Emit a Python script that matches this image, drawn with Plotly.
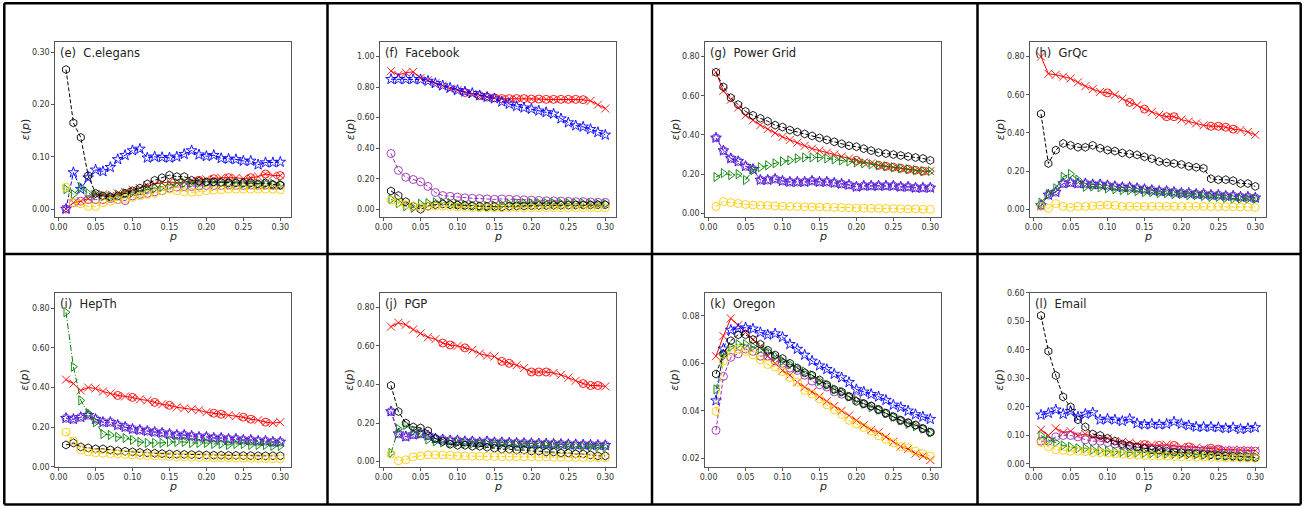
import plotly.graph_objects as go

# ---------------- data ----------------
P = [0.01, 0.02, 0.03, 0.04, 0.05, 0.06, 0.07, 0.08, 0.09, 0.10,
     0.11, 0.12, 0.13, 0.14, 0.15, 0.16, 0.17, 0.18, 0.19, 0.20,
     0.21, 0.22, 0.23, 0.24, 0.25, 0.26, 0.27, 0.28, 0.29, 0.30]
X_TICKS = [0.00, 0.05, 0.10, 0.15, 0.20, 0.25, 0.30]

# (e) C.elegans
celegans_red = [0.000,0.012,0.015,0.020,0.028,0.028,0.025,0.030,0.033,0.037,0.040,0.045,0.048,0.050,0.052,0.050,0.052,0.054,0.055,0.057,0.058,0.060,0.060,0.060,0.058,0.060,0.062,0.067,0.064,0.064]
celegans_blue = [0.000,0.070,0.038,0.060,0.075,0.072,0.080,0.095,0.103,0.112,0.115,0.098,0.100,0.099,0.098,0.100,0.105,0.112,0.104,0.101,0.103,0.097,0.096,0.095,0.092,0.092,0.085,0.089,0.089,0.090]
celegans_purple = [0.000,0.012,0.015,0.018,0.018,0.018,0.020,0.018,0.016,0.025,0.028,0.030,0.033,0.035,0.040,0.042,0.043,0.043,0.044,0.045,0.045,0.045,0.046,0.045,0.045,0.046,0.045,0.046,0.045,0.045]
celegans_green = [0.038,0.028,0.042,0.030,0.028,0.025,0.025,0.027,0.030,0.032,0.035,0.038,0.040,0.043,0.045,0.050,0.050,0.050,0.050,0.051,0.050,0.050,0.050,0.050,0.049,0.049,0.048,0.049,0.048,0.048]
celegans_black = [0.267,0.165,0.137,0.064,0.030,0.025,0.023,0.025,0.030,0.035,0.040,0.048,0.055,0.060,0.065,0.062,0.062,0.055,0.053,0.052,0.052,0.051,0.050,0.050,0.050,0.050,0.048,0.050,0.047,0.046]
celegans_yellow = [0.042,0.012,0.010,0.005,0.005,0.012,0.015,0.018,0.020,0.022,0.025,0.028,0.030,0.035,0.038,0.035,0.033,0.032,0.033,0.035,0.036,0.037,0.038,0.038,0.038,0.038,0.038,0.038,0.038,0.037]

# (f) Facebook
facebook_red = [0.905,0.880,0.895,0.900,0.860,0.845,0.825,0.810,0.790,0.780,0.765,0.755,0.745,0.735,0.730,0.725,0.725,0.725,0.725,0.722,0.722,0.720,0.720,0.720,0.720,0.720,0.718,0.710,0.685,0.660]
facebook_blue = [0.852,0.852,0.852,0.852,0.850,0.840,0.825,0.810,0.795,0.780,0.770,0.760,0.745,0.735,0.725,0.705,0.690,0.675,0.665,0.657,0.645,0.635,0.625,0.594,0.568,0.548,0.540,0.524,0.504,0.487]
facebook_purple = [0.365,0.255,0.210,0.195,0.180,0.150,0.110,0.090,0.085,0.080,0.075,0.072,0.070,0.068,0.065,0.068,0.066,0.064,0.062,0.060,0.058,0.056,0.055,0.054,0.052,0.050,0.050,0.048,0.046,0.045]
facebook_green = [0.065,0.040,0.020,0.010,0.035,0.040,0.045,0.045,0.040,0.035,0.030,0.025,0.020,0.020,0.025,0.030,0.035,0.040,0.040,0.040,0.040,0.040,0.040,0.040,0.040,0.038,0.038,0.036,0.035,0.035]
facebook_black = [0.120,0.090,0.050,0.020,0.000,0.020,0.030,0.035,0.030,0.028,0.025,0.022,0.020,0.018,0.018,0.015,0.020,0.022,0.022,0.024,0.025,0.025,0.026,0.026,0.027,0.028,0.028,0.029,0.030,0.030]
facebook_yellow = [0.060,0.045,0.030,0.020,0.015,0.020,0.020,0.020,0.018,0.015,0.012,0.010,0.010,0.010,0.010,0.010,0.010,0.010,0.010,0.010,0.010,0.010,0.010,0.010,0.010,0.010,0.010,0.010,0.010,0.010]

# (g) Power Grid
power_red = [0.720,0.625,0.580,0.540,0.500,0.475,0.450,0.430,0.410,0.390,0.375,0.360,0.345,0.330,0.320,0.310,0.300,0.290,0.280,0.270,0.260,0.255,0.245,0.240,0.235,0.230,0.225,0.220,0.215,0.215]
power_blue = [0.385,0.320,0.280,0.265,0.240,0.225,0.170,0.170,0.175,0.165,0.160,0.160,0.160,0.165,0.160,0.160,0.155,0.150,0.145,0.135,0.140,0.140,0.140,0.140,0.140,0.135,0.135,0.130,0.130,0.130]
power_purple = [0.385,0.320,0.280,0.265,0.240,0.225,0.170,0.170,0.175,0.165,0.160,0.160,0.160,0.165,0.160,0.160,0.155,0.150,0.145,0.135,0.140,0.140,0.140,0.140,0.140,0.135,0.135,0.130,0.130,0.130]
power_green = [0.185,0.205,0.195,0.200,0.170,0.220,0.235,0.245,0.255,0.265,0.270,0.280,0.285,0.285,0.285,0.280,0.275,0.270,0.265,0.260,0.255,0.250,0.245,0.240,0.235,0.230,0.225,0.220,0.215,0.215]
power_black = [0.720,0.645,0.590,0.555,0.520,0.500,0.485,0.470,0.450,0.440,0.425,0.415,0.405,0.395,0.385,0.375,0.365,0.355,0.345,0.340,0.330,0.320,0.310,0.305,0.300,0.295,0.290,0.285,0.280,0.270]
power_yellow = [0.035,0.060,0.055,0.050,0.045,0.042,0.040,0.040,0.038,0.036,0.035,0.034,0.033,0.032,0.032,0.031,0.030,0.029,0.028,0.027,0.026,0.025,0.025,0.024,0.024,0.023,0.022,0.022,0.021,0.020]

# (h) GrQc
grqc_red = [0.800,0.710,0.705,0.695,0.685,0.665,0.645,0.630,0.615,0.610,0.600,0.580,0.560,0.545,0.525,0.510,0.495,0.485,0.485,0.470,0.460,0.450,0.440,0.435,0.435,0.430,0.420,0.415,0.405,0.390]
grqc_blue = [0.020,0.075,0.090,0.135,0.140,0.135,0.135,0.130,0.130,0.125,0.120,0.115,0.115,0.110,0.105,0.100,0.095,0.095,0.090,0.085,0.085,0.080,0.080,0.075,0.075,0.070,0.070,0.065,0.065,0.060]
grqc_purple = [0.020,0.075,0.090,0.135,0.140,0.135,0.135,0.130,0.130,0.125,0.120,0.115,0.115,0.110,0.105,0.100,0.095,0.095,0.090,0.085,0.085,0.080,0.080,0.075,0.075,0.070,0.070,0.065,0.065,0.060]
grqc_green = [0.035,0.080,0.110,0.170,0.185,0.155,0.118,0.120,0.115,0.110,0.105,0.100,0.100,0.095,0.090,0.090,0.085,0.085,0.080,0.080,0.075,0.075,0.070,0.065,0.065,0.060,0.055,0.055,0.055,0.055]
grqc_black = [0.500,0.240,0.310,0.345,0.335,0.325,0.325,0.335,0.320,0.310,0.305,0.295,0.290,0.285,0.275,0.265,0.250,0.245,0.240,0.235,0.225,0.220,0.215,0.160,0.155,0.155,0.150,0.135,0.135,0.120]
grqc_yellow = [0.015,0.005,0.030,0.015,0.010,0.015,0.015,0.018,0.020,0.022,0.020,0.015,0.015,0.015,0.015,0.015,0.015,0.015,0.015,0.015,0.015,0.015,0.015,0.014,0.014,0.013,0.013,0.012,0.012,0.010]

# (i) HepTh
hepth_red = [0.440,0.420,0.385,0.400,0.395,0.380,0.370,0.360,0.355,0.350,0.340,0.335,0.325,0.315,0.310,0.300,0.295,0.290,0.285,0.275,0.270,0.265,0.260,0.255,0.250,0.240,0.235,0.225,0.220,0.225]
hepth_blue = [0.245,0.240,0.250,0.260,0.240,0.225,0.225,0.210,0.200,0.190,0.185,0.180,0.175,0.170,0.165,0.160,0.160,0.155,0.150,0.150,0.145,0.145,0.140,0.140,0.135,0.135,0.130,0.130,0.125,0.125]
hepth_purple = [0.245,0.240,0.250,0.260,0.240,0.225,0.225,0.210,0.200,0.190,0.185,0.180,0.175,0.170,0.165,0.160,0.160,0.155,0.150,0.150,0.145,0.145,0.140,0.140,0.135,0.135,0.130,0.130,0.125,0.125]
hepth_green = [0.780,0.505,0.335,0.270,0.225,0.165,0.160,0.150,0.145,0.135,0.125,0.120,0.120,0.120,0.125,0.125,0.125,0.120,0.120,0.120,0.115,0.115,0.110,0.115,0.115,0.110,0.110,0.110,0.105,0.105]
hepth_black = [0.110,0.120,0.100,0.095,0.090,0.090,0.085,0.080,0.078,0.075,0.072,0.070,0.068,0.066,0.064,0.063,0.062,0.061,0.060,0.059,0.058,0.058,0.057,0.057,0.056,0.056,0.055,0.055,0.055,0.055]
hepth_yellow = [0.175,0.130,0.085,0.075,0.070,0.068,0.066,0.065,0.062,0.060,0.058,0.056,0.055,0.053,0.052,0.050,0.049,0.048,0.047,0.046,0.045,0.045,0.044,0.043,0.043,0.042,0.042,0.041,0.041,0.040]

# (j) PGP
pgp_red = [0.700,0.720,0.710,0.685,0.665,0.645,0.635,0.615,0.605,0.600,0.590,0.580,0.560,0.550,0.545,0.520,0.510,0.500,0.485,0.465,0.465,0.465,0.460,0.450,0.435,0.420,0.405,0.395,0.395,0.390]
pgp_blue = [0.260,0.145,0.130,0.140,0.145,0.135,0.120,0.115,0.110,0.110,0.105,0.105,0.100,0.105,0.100,0.100,0.098,0.097,0.096,0.095,0.094,0.093,0.092,0.091,0.090,0.089,0.088,0.087,0.086,0.085]
pgp_purple = [0.260,0.145,0.130,0.140,0.145,0.135,0.120,0.115,0.110,0.110,0.105,0.105,0.100,0.105,0.100,0.100,0.098,0.097,0.096,0.095,0.094,0.093,0.092,0.091,0.090,0.089,0.088,0.087,0.086,0.085]
pgp_green = [0.045,0.170,0.190,0.160,0.145,0.115,0.105,0.100,0.095,0.100,0.095,0.094,0.093,0.092,0.092,0.091,0.090,0.089,0.088,0.087,0.086,0.085,0.084,0.083,0.082,0.080,0.079,0.078,0.077,0.075]
pgp_black = [0.395,0.260,0.200,0.180,0.175,0.160,0.120,0.105,0.090,0.085,0.085,0.080,0.080,0.075,0.070,0.065,0.065,0.060,0.060,0.055,0.055,0.050,0.050,0.045,0.045,0.040,0.040,0.035,0.030,0.030]
pgp_yellow = [0.040,0.005,0.010,0.025,0.030,0.035,0.035,0.035,0.033,0.030,0.030,0.028,0.028,0.027,0.027,0.026,0.026,0.025,0.025,0.025,0.024,0.024,0.023,0.023,0.023,0.022,0.022,0.021,0.021,0.020]

# (k) Oregon
oregon_red = [0.0630,0.0715,0.0789,0.0760,0.0730,0.0700,0.0670,0.0630,0.0600,0.0570,0.0550,0.0520,0.0500,0.0480,0.0460,0.0440,0.0420,0.0400,0.0380,0.0360,0.0340,0.0320,0.0310,0.0290,0.0270,0.0250,0.0240,0.0220,0.0210,0.0193]
oregon_blue = [0.0443,0.0661,0.0740,0.0745,0.0750,0.0745,0.0730,0.0720,0.0725,0.0710,0.0680,0.0660,0.0635,0.0610,0.0590,0.0575,0.0555,0.0540,0.0520,0.0490,0.0480,0.0470,0.0460,0.0445,0.0425,0.0415,0.0400,0.0385,0.0375,0.0365]
oregon_purple = [0.0318,0.0545,0.0625,0.0640,0.0660,0.0650,0.0630,0.0630,0.0610,0.0600,0.0580,0.0570,0.0550,0.0525,0.0510,0.0500,0.0480,0.0470,0.0460,0.0455,0.0430,0.0420,0.0405,0.0390,0.0375,0.0360,0.0350,0.0340,0.0325,0.0310]
oregon_green = [0.0490,0.0630,0.0670,0.0680,0.0680,0.0670,0.0660,0.0650,0.0630,0.0610,0.0595,0.0580,0.0565,0.0550,0.0525,0.0510,0.0490,0.0480,0.0460,0.0445,0.0430,0.0415,0.0405,0.0390,0.0375,0.0360,0.0345,0.0335,0.0325,0.0310]
oregon_black = [0.0555,0.0640,0.0695,0.0720,0.0720,0.0700,0.0680,0.0655,0.0635,0.0620,0.0600,0.0580,0.0560,0.0550,0.0530,0.0510,0.0490,0.0480,0.0460,0.0440,0.0430,0.0420,0.0405,0.0390,0.0375,0.0360,0.0350,0.0340,0.0325,0.0310]
oregon_yellow = [0.0398,0.0610,0.0650,0.0660,0.0650,0.0635,0.0615,0.0595,0.0585,0.0565,0.0540,0.0520,0.0485,0.0470,0.0450,0.0425,0.0405,0.0385,0.0360,0.0345,0.0330,0.0315,0.0295,0.0280,0.0265,0.0250,0.0245,0.0230,0.0220,0.0210]

# (l) Email
email_red = [0.120,0.100,0.125,0.110,0.115,0.100,0.105,0.095,0.090,0.090,0.080,0.078,0.075,0.070,0.068,0.068,0.065,0.068,0.065,0.060,0.060,0.058,0.055,0.055,0.052,0.050,0.050,0.050,0.048,0.047]
email_blue = [0.172,0.178,0.190,0.175,0.185,0.165,0.175,0.180,0.155,0.158,0.155,0.150,0.158,0.142,0.138,0.140,0.138,0.140,0.148,0.140,0.135,0.130,0.130,0.130,0.128,0.125,0.128,0.122,0.125,0.128]
email_purple = [0.080,0.080,0.095,0.100,0.100,0.095,0.085,0.080,0.080,0.075,0.070,0.065,0.060,0.058,0.055,0.054,0.053,0.052,0.051,0.050,0.049,0.048,0.048,0.047,0.047,0.046,0.046,0.045,0.045,0.045]
email_green = [0.100,0.085,0.075,0.065,0.060,0.055,0.055,0.050,0.048,0.045,0.043,0.042,0.040,0.040,0.039,0.038,0.037,0.036,0.035,0.035,0.034,0.033,0.032,0.031,0.030,0.029,0.028,0.027,0.026,0.025]
email_black = [0.520,0.395,0.310,0.235,0.200,0.155,0.130,0.105,0.100,0.090,0.080,0.070,0.065,0.060,0.055,0.050,0.048,0.045,0.042,0.040,0.038,0.036,0.034,0.032,0.030,0.028,0.027,0.025,0.024,0.022]
email_yellow = [0.075,0.060,0.050,0.048,0.045,0.045,0.043,0.040,0.040,0.038,0.036,0.034,0.032,0.031,0.030,0.029,0.028,0.027,0.026,0.025,0.025,0.024,0.024,0.023,0.023,0.022,0.022,0.021,0.021,0.020]

# p values at which the red marker is drawn as a crossed circle
celegans_red_circ = [0.19, 0.21, 0.23, 0.26, 0.28, 0.30]
facebook_red_circ = [0.11, 0.13, 0.14, 0.15, 0.16, 0.17, 0.18, 0.19, 0.20, 0.21, 0.22, 0.23, 0.24, 0.25, 0.26, 0.27]
power_red_circ = [0.20, 0.23, 0.24, 0.25, 0.26, 0.27, 0.28, 0.29]
grqc_red_circ = [0.10, 0.13, 0.15, 0.18, 0.19, 0.24, 0.25, 0.26, 0.27]
hepth_red_circ = [0.08, 0.10, 0.13, 0.15, 0.21, 0.22, 0.25, 0.26, 0.28]
pgp_red_circ = [0.08, 0.09, 0.11, 0.16, 0.17, 0.20, 0.21, 0.22, 0.27, 0.28, 0.29]
oregon_red_circ = []
email_red_circ = [0.15, 0.17, 0.19, 0.21, 0.24, 0.25]

panels = [
    ("(e)  C.elegans", [celegans_red, celegans_blue, celegans_purple, celegans_green, celegans_black, celegans_yellow], celegans_red_circ,
     [-0.0147, 0.3203], [0.0, 0.1, 0.2, 0.3]),
    ("(f)  Facebook", [facebook_red, facebook_blue, facebook_purple, facebook_green, facebook_black, facebook_yellow], facebook_red_circ,
     [-0.0485, 1.0976], [0.0, 0.2, 0.4, 0.6, 0.8, 1.0]),
    ("(g)  Power Grid", [power_red, power_blue, power_purple, power_green, power_black, power_yellow], power_red_circ,
     [-0.0174, 0.876], [0.0, 0.2, 0.4, 0.6, 0.8]),
    ("(h)  GrQc", [grqc_red, grqc_blue, grqc_purple, grqc_green, grqc_black, grqc_yellow], grqc_red_circ,
     [-0.0388, 0.878], [0.0, 0.2, 0.4, 0.6, 0.8]),
    ("(i)  HepTh", [hepth_red, hepth_blue, hepth_purple, hepth_green, hepth_black, hepth_yellow], hepth_red_circ,
     [0.0, 0.879], [0.0, 0.2, 0.4, 0.6, 0.8]),
    ("(j)  PGP", [pgp_red, pgp_blue, pgp_purple, pgp_green, pgp_black, pgp_yellow], pgp_red_circ,
     [-0.026, 0.876], [0.0, 0.2, 0.4, 0.6, 0.8]),
    ("(k)  Oregon", [oregon_red, oregon_blue, oregon_purple, oregon_green, oregon_black, oregon_yellow], oregon_red_circ,
     [0.0165, 0.0897], [0.02, 0.04, 0.06, 0.08]),
    ("(l)  Email", [email_red, email_blue, email_purple, email_green, email_black, email_yellow], email_red_circ,
     [-0.0095, 0.600], [0.0, 0.1, 0.2, 0.3, 0.4, 0.5, 0.6]),
]

# ---------------- styles ----------------
STYLES = [
    dict(color="#ff0000", symbol="x-thin-open", dash="solid", size=8),
    dict(color="#0000ff", symbol="star-open", dash="4px,2px", size=8),
    dict(color="#9a2fb0", symbol="circle-open", dash="4px,2px", size=8),
    dict(color="#008000", symbol="triangle-right-open", dash="6px,2px,1px,2px", size=8),
    dict(color="#000000", symbol="hexagon-open", dash="4px,2px", size=8),
    dict(color="#ffcc00", symbol="circle-open", dash="4px,2px", size=8),
]

W, H = 1307, 506
COL_OFF = [0, 325, 650, 975]
BOX_L, BOX_R = 55.3, 291.0
ROW_TB = [(41.7, 216.7), (292.7, 466.7)]

fig = go.Figure()
layout = {}
annotations = []

for k, (label, series, circ, yrange, yticks) in enumerate(panels):
    r, c = divmod(k, 4)
    n = k + 1
    suf = "" if n == 1 else str(n)
    xa, ya = "x" + suf, "y" + suf
    left = COL_OFF[c] + BOX_L
    right = COL_OFF[c] + BOX_R
    top, bot = ROW_TB[r]
    for s, (vals, st) in enumerate(zip(series, STYLES)):
        sym = st["symbol"]
        if s == 0:
            sym = ["circle-x-open" if p in circ else "x-thin-open" for p in P]
        fig.add_trace(go.Scatter(
            x=P, y=vals, xaxis=xa, yaxis=ya, mode="lines+markers",
            line=dict(color=st["color"], width=1, dash=st["dash"]),
            marker=dict(symbol=sym, size=st["size"], color=st["color"],
                        line=dict(color=st["color"], width=0.9)),
            showlegend=False, hoverinfo="skip"))
    axis_common = dict(showline=True, mirror=True, linecolor="#555", linewidth=1,
                       ticks="outside", ticklen=3, tickcolor="#555", showgrid=False,
                       zeroline=False, automargin=False,
                       tickfont=dict(family="DejaVu Sans", size=8, color="#333"),
                       tickformat=".2f")
    layout["xaxis" + suf] = dict(domain=[left / W, right / W], anchor=ya, range=[-0.0045, 0.3145],
                                 tickvals=X_TICKS, **axis_common)
    layout["yaxis" + suf] = dict(domain=[1 - bot / H, 1 - top / H], anchor=xa, range=yrange,
                                 tickvals=yticks, **axis_common)
    annotations.append(dict(text=label, xref=xa + " domain", yref=ya + " domain",
                            x=0.012, y=0.985, xanchor="left", yanchor="top", showarrow=False,
                            font=dict(family="DejaVu Sans", size=11.5, color="#222")))
    annotations.append(dict(text="<i>p</i>", xref="paper", yref="paper",
                            x=(left + right) / 2 / W, y=1 - (bot + 20) / H,
                            xanchor="center", yanchor="middle", showarrow=False,
                            font=dict(family="DejaVu Sans", size=11, color="#222")))
    annotations.append(dict(text="<i>ε</i>(<i>p</i>)", xref="paper", yref="paper",
                            x=(COL_OFF[c] + 25) / W, y=1 - (top + bot) / 2 / H, textangle=-90,
                            xanchor="center", yanchor="middle", showarrow=False,
                            font=dict(family="DejaVu Sans", size=11, color="#222")))

shapes = []
for xv in [4.3, 327.5, 652, 977.5, 1300.7]:
    shapes.append(dict(type="line", xref="paper", yref="paper", x0=xv / W, x1=xv / W,
                       y0=1 - 3.3 / H, y1=1 - 504.5 / H, line=dict(color="black", width=2.5)))
for yv in [3.3, 254, 504.5]:
    shapes.append(dict(type="line", xref="paper", yref="paper", x0=4.3 / W, x1=1300.7 / W,
                       y0=1 - yv / H, y1=1 - yv / H, line=dict(color="black", width=2.5)))

fig.update_layout(template="none", width=W, height=H, autosize=False,
                  margin=dict(l=0, r=0, t=0, b=0, pad=0),
                  paper_bgcolor="white", plot_bgcolor="white",
                  font=dict(family="DejaVu Sans", color="#222"),
                  annotations=annotations, shapes=shapes, **layout)

fig.write_html("out.html", config={"displayModeBar": False, "staticPlot": True},
               post_script="document.body.style.margin='0';document.body.style.padding='0';"
                           "document.body.style.overflow='hidden';"
                           "document.documentElement.style.overflow='hidden';")
